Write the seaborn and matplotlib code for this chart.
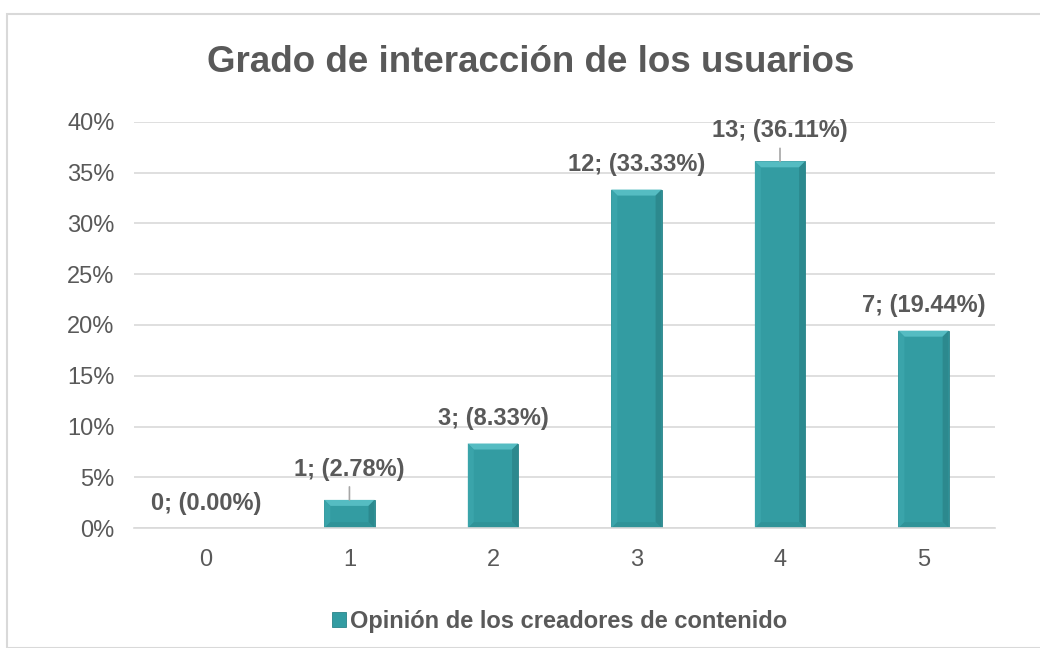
import pandas as pd
import matplotlib.pyplot as plt
import matplotlib.ticker as mticker
from matplotlib.patches import Rectangle, Polygon
import seaborn as sns

# Data
categories = ['0', '1', '2', '3', '4', '5']
counts = [0, 1, 3, 12, 13, 7]
percents = [0.00, 2.78, 8.33, 33.33, 36.11, 19.44]
series_name = 'Opinión de los creadores de contenido'
title = 'Grado de interacción de los usuarios'

bar_color = '#339CA2'
text_color = '#595959'
grid_color = '#D9D9D9'

sns.set_theme(style='white')
plt.rcParams['font.family'] = ['Liberation Sans', 'DejaVu Sans']

df = pd.DataFrame({'grado': categories, 'pct': percents, 'n': counts})

fig = plt.figure(figsize=(10.4, 6.48), dpi=100)
ax = fig.add_axes([0.129, 0.185, 0.828, 0.627])

sns.barplot(data=df, x='grado', y='pct', color=bar_color, width=0.35,
            saturation=1, edgecolor='#2A8489', linewidth=0.6, ax=ax,
            label=series_name)

ax.set_ylim(0, 40)
ax.set_xlim(-0.5, 5.5)
ax.yaxis.set_major_locator(mticker.MultipleLocator(5))
ax.yaxis.set_major_formatter(mticker.FuncFormatter(lambda v, _: f'{v:.0f}%'))
ax.grid(axis='y', color=grid_color, linewidth=1.2)
ax.set_axisbelow(True)
for side in ['top', 'right', 'left']:
    ax.spines[side].set_visible(False)
ax.spines['bottom'].set_color(grid_color)
ax.spines['bottom'].set_linewidth(1.2)
ax.tick_params(axis='both', length=0, labelsize=17, colors=text_color)
ax.tick_params(axis='y', pad=14)
ax.tick_params(axis='x', pad=15)
ax.set_xlabel('')
ax.set_ylabel('')

# bevel look on the bars (built from each bar's own geometry)
fig.canvas.draw()
px_x = 1 / (ax.transData.transform((1, 0))[0] - ax.transData.transform((0, 0))[0])
px_y = 1 / (ax.transData.transform((0, 1))[1] - ax.transData.transform((0, 0))[1])
bev = 6
for bar in list(ax.patches):
    x0, w, h = bar.get_x(), bar.get_width(), bar.get_height()
    if h <= 0:
        continue
    dx, dy = bev * px_x, min(bev * px_y, h / 2)
    x1, top = x0 + w, h
    faces = [
        ([(x0, top), (x1, top), (x1 - dx, top - dy), (x0 + dx, top - dy)], '#55BCC2'),
        ([(x0, 0), (x0, top), (x0 + dx, top - dy), (x0 + dx, dy)], '#3AA4AA'),
        ([(x1, 0), (x1, top), (x1 - dx, top - dy), (x1 - dx, dy)], '#2C898E'),
        ([(x0, 0), (x1, 0), (x1 - dx, dy), (x0 + dx, dy)], '#309398'),
    ]
    for pts, c in faces:
        ax.add_patch(Polygon(pts, closed=True, facecolor=c, edgecolor='none', zorder=bar.get_zorder() + 0.1))

# data labels, two of them with leader lines
for i, (n, p) in enumerate(zip(counts, percents)):
    label = f'{n}; ({p:.2f}%)'
    if i in (1, 4):
        ax.annotate(label, xy=(i, p), xytext=(0, 22), textcoords='offset points',
                    ha='center', va='center', fontsize=17, fontweight='bold',
                    color=text_color,
                    arrowprops=dict(arrowstyle='-', color='#A6A6A6', lw=1.2,
                                    shrinkA=2, shrinkB=0))
    else:
        ax.annotate(label, xy=(i, p), xytext=(0, 18), textcoords='offset points',
                    ha='center', va='center', fontsize=17, fontweight='bold',
                    color=text_color)

fig.text(0.51, 0.903, title, ha='center', va='center', fontsize=26.5,
         fontweight='bold', color=text_color)

leg = ax.legend(loc='upper center', bbox_to_anchor=(0.494, -0.15), frameon=False,
                fontsize=17, handlelength=0.6, handleheight=0.6, handletextpad=0.2)
for t in leg.get_texts():
    t.set_color(text_color)
    t.set_fontweight('bold')

# outer chart border
fig.patches.append(Rectangle((7 / 1040, 0), 1, 1 - 14 / 648, transform=fig.transFigure,
                             fill=False, edgecolor=grid_color, linewidth=1.5))

fig.savefig('out.png', dpi=100)
